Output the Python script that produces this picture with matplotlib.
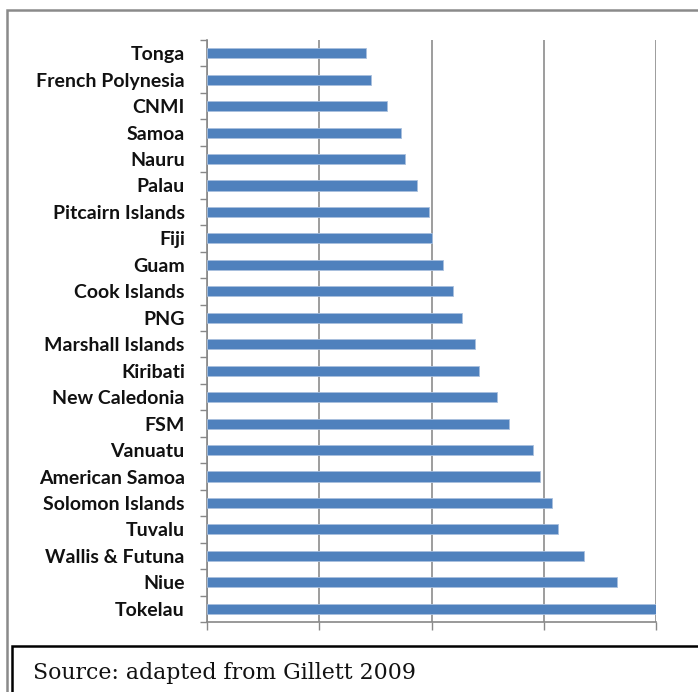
import matplotlib.pyplot as plt
import numpy as np
from matplotlib.patches import Rectangle

countries = ['Tonga', 'French Polynesia', 'CNMI', 'Samoa', 'Nauru', 'Palau',
             'Pitcairn Islands', 'Fiji', 'Guam', 'Cook Islands', 'PNG',
             'Marshall Islands', 'Kiribati', 'New Caledonia', 'FSM', 'Vanuatu',
             'American Samoa', 'Solomon Islands', 'Tuvalu', 'Wallis & Futuna',
             'Niue', 'Tokelau']
values = [70.8, 73.0, 80.0, 86.3, 88.1, 93.7, 98.9, 100.1, 105.1, 109.7, 113.7,
          119.5, 121.0, 129.1, 134.7, 145.1, 148.5, 153.7, 156.5, 168.1, 182.8, 200.0]
grid_ticks = [0, 50, 100, 150, 200]

fig = plt.figure(figsize=(6.98, 6.92), dpi=100)
ax = fig.add_axes([207/698, 1 - 622/692, 449/698, 582/692])

ind = np.arange(len(countries))
ax.barh(ind, values, height=0.38, color='#4f81bd', edgecolor='#a9c0de',
        linewidth=0.6, zorder=3)

ax.set_xlim(0, 200)
ax.set_ylim(len(countries) - 0.5, -0.5)
ax.set_xticks(grid_ticks)
ax.set_xticklabels([])
ax.tick_params(axis='x', length=6, color='#888888', width=1)
ax.xaxis.grid(True, color='#8c8c8c', linewidth=1.2, zorder=0)

ax.set_yticks(ind)
ax.set_yticklabels(countries, fontsize=14, family='Lato', fontweight='bold',
                   color='#111111')
ax.set_yticks(np.arange(len(countries) + 1) - 0.5, minor=True)
ax.tick_params(axis='y', which='major', length=0, pad=16)
ax.tick_params(axis='y', which='minor', length=5, color='#888888', width=1)

for side in ['top', 'right']:
    ax.spines[side].set_visible(False)
for side in ['left', 'bottom']:
    ax.spines[side].set_color('#888888')
    ax.spines[side].set_linewidth(1.2)

# outer chart frame and source box
fig.add_artist(Rectangle((7/698, -0.1), 1.2, 1 - 10/692 + 0.1,
                         transform=fig.transFigure, fill=False,
                         edgecolor='#8a8a8a', linewidth=1.8))
fig.add_artist(Rectangle((12/698, -0.1), 1.2, 1 - 646/692 + 0.1,
                         transform=fig.transFigure, facecolor='white',
                         edgecolor='black', linewidth=1.8))
fig.text(33/698, 1 - 679/692, 'Source: adapted from Gillett 2009',
         fontsize=15.8, family='DejaVu Serif', va='baseline', color='#111111')

fig.savefig('out.png', dpi=100)
